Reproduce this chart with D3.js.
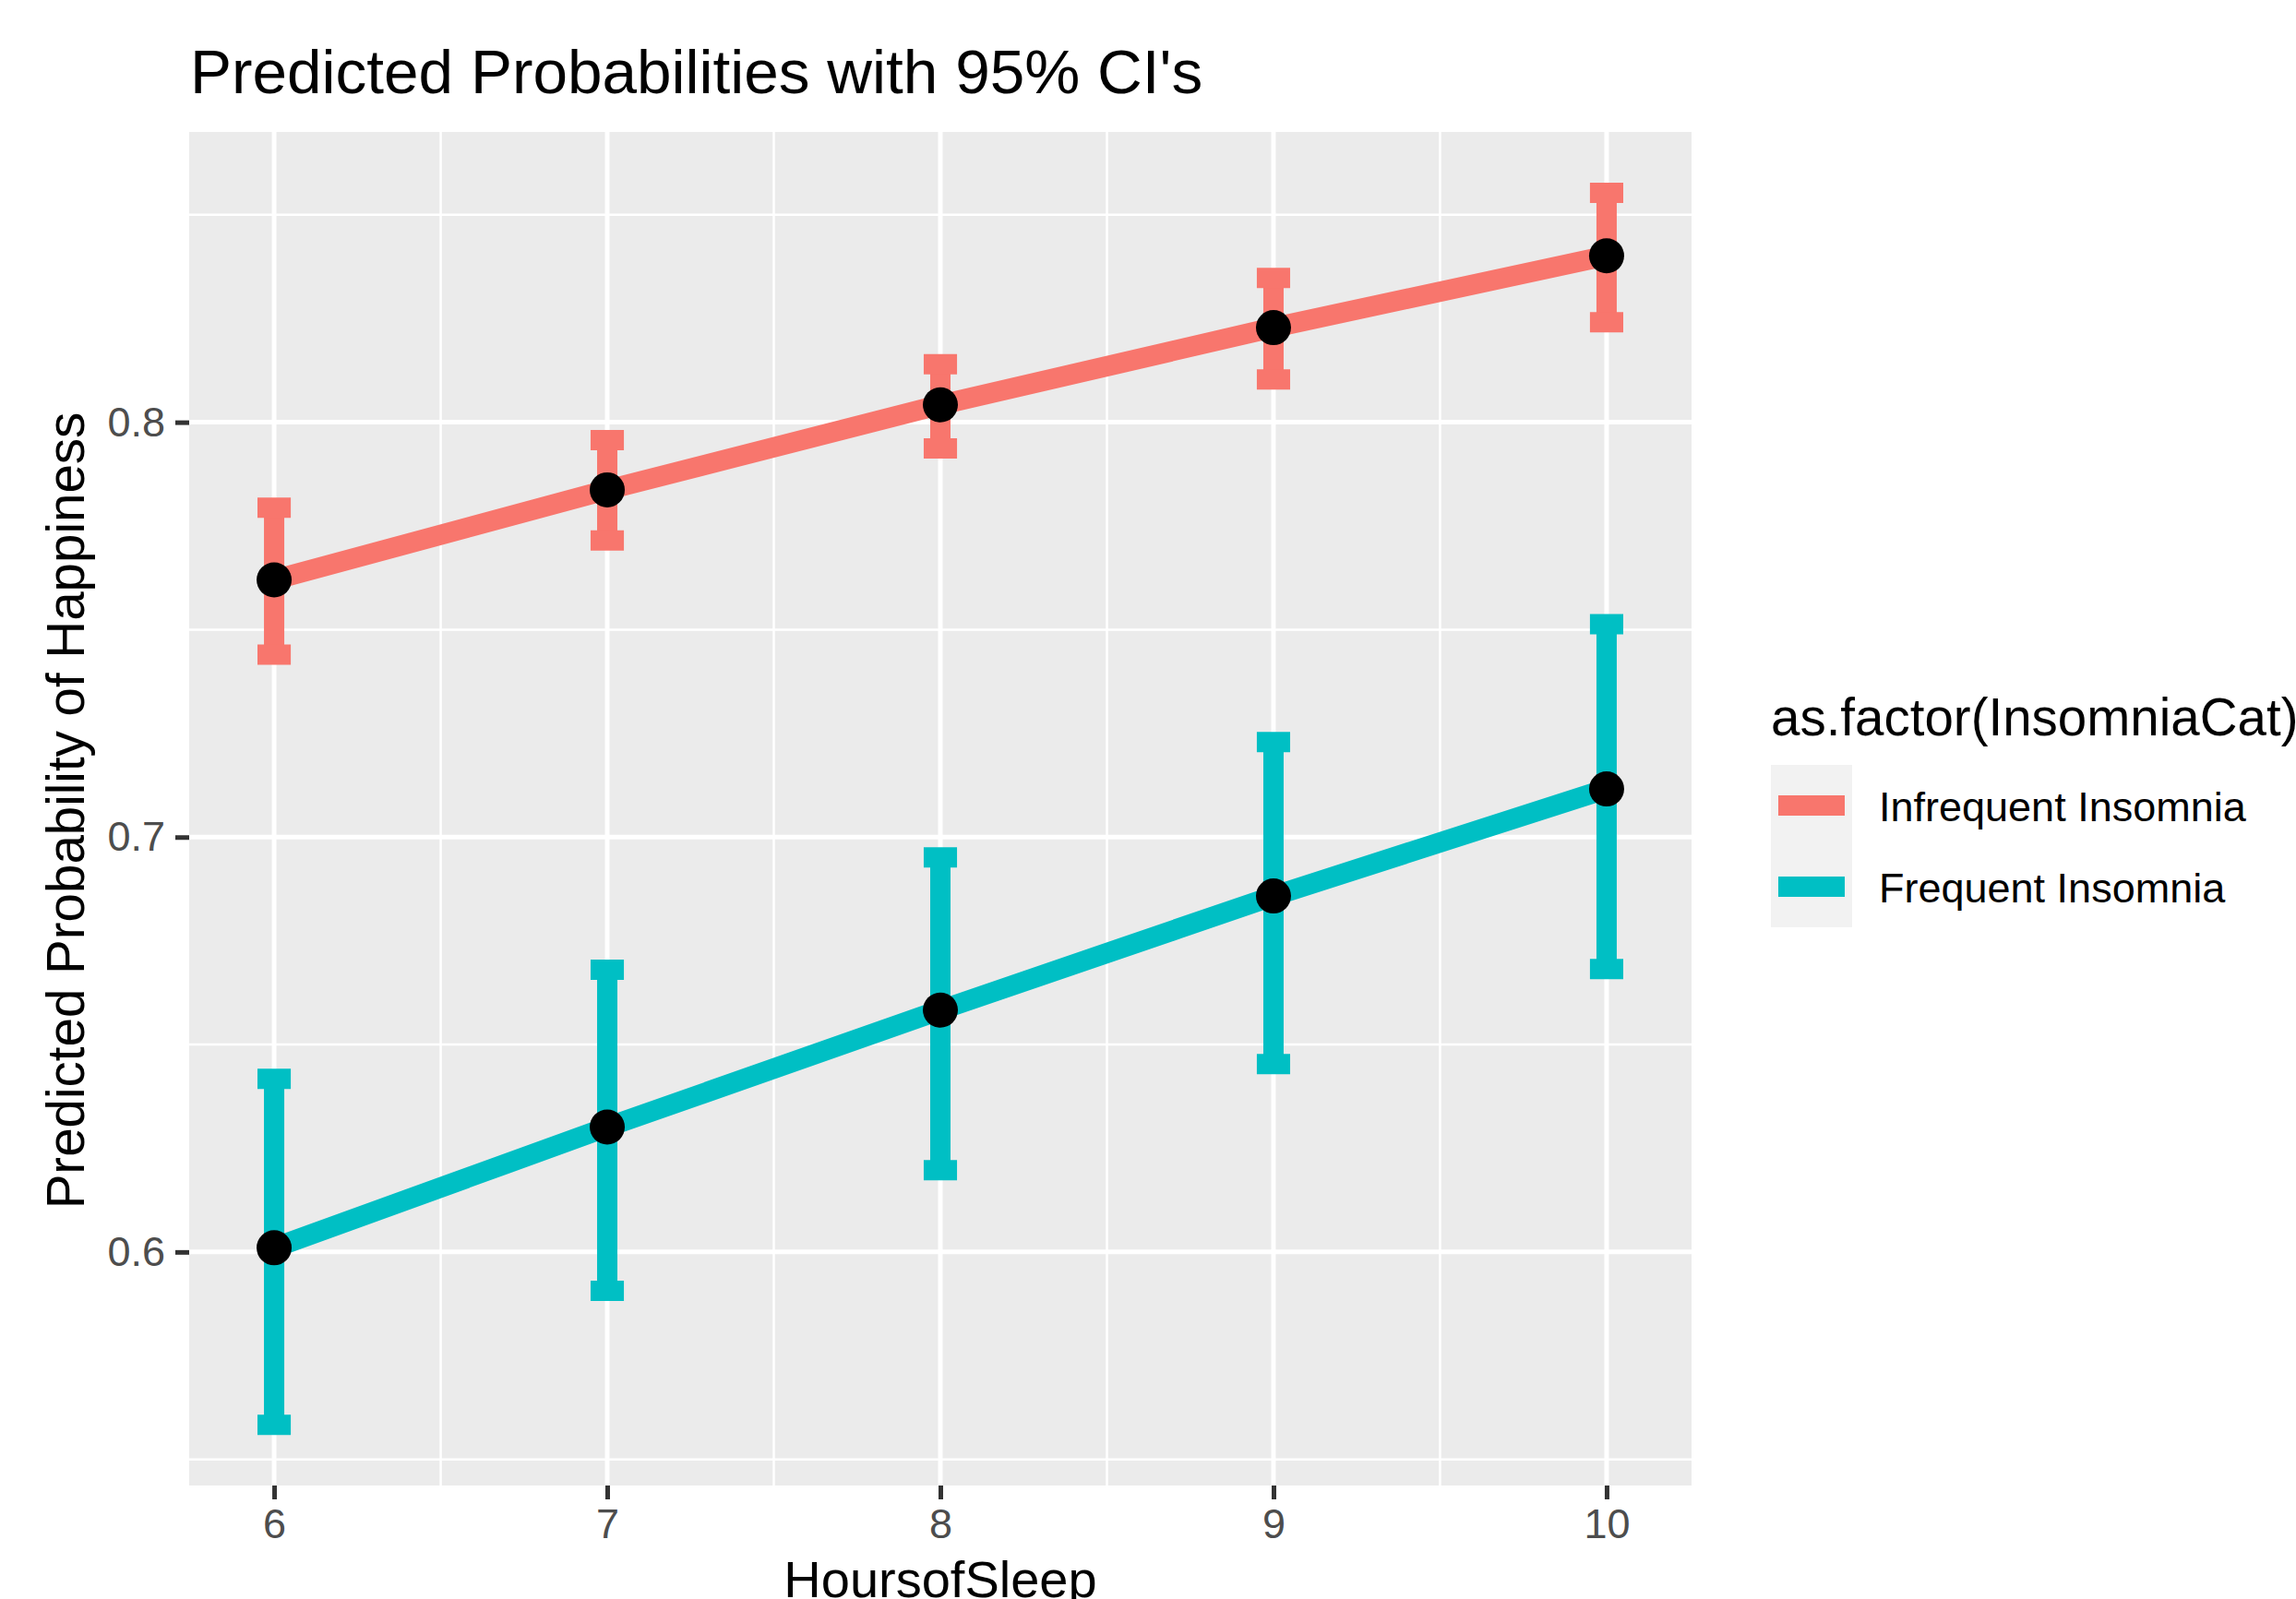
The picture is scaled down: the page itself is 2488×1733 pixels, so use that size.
<!DOCTYPE html>
<html>
<head>
<meta charset="utf-8">
<script src="https://cdn.jsdelivr.net/npm/d3@7"></script>
<style>
  body { margin: 0; background: #fff; }
  text { font-family: "Liberation Sans", Arial, Helvetica, sans-serif; }
  .axis path { display: none; }
  .axis line { stroke: #333333; stroke-width: 5px; }
  .axis text { fill: #4d4d4d; font-size: 45px; }
</style>
</head>
<body>
<div id="chart"></div>
<script>
// data
var hours = [6, 7, 8, 9, 10];
var infrequentFit   = [0.762, 0.7837, 0.8042, 0.8228, 0.8401];
var infrequentLower = [0.744, 0.7715, 0.7937, 0.8103, 0.8241];
var infrequentUpper = [0.7794, 0.7957, 0.814, 0.8348, 0.8553];
var frequentFit   = [0.601, 0.6301, 0.6583, 0.6858, 0.7116];
var frequentLower = [0.5583, 0.5906, 0.6197, 0.6453, 0.6682];
var frequentUpper = [0.6417, 0.668, 0.6951, 0.7229, 0.7513];
var seriesNames = ["Infrequent Insomnia", "Frequent Insomnia"];
var seriesColors = ["#F8766D", "#00BFC4"];
var yTicks = [0.6, 0.7, 0.8];
var yMinor = [0.55, 0.65, 0.75, 0.85];
var xMinor = [6.5, 7.5, 8.5, 9.5];

var margin = {top: 143, right: 655, bottom: 123, left: 205},
    width = 2488 - margin.left - margin.right,
    height = 1733 - margin.top - margin.bottom;

var root = d3.select("#chart").append("svg")
    .attr("width", 2488)
    .attr("height", 1733);

var svg = root.append("g")
    .attr("transform", "translate(" + margin.left + "," + margin.top + ")");

var x = d3.scaleLinear().domain([5.745, 10.255]).range([0, width]);
var y = d3.scaleLinear().domain([0.5437, 0.86997]).range([height, 0]);

var series = seriesNames.map(function(name, i) {
  var fit = i == 0 ? infrequentFit : frequentFit,
      lo = i == 0 ? infrequentLower : frequentLower,
      hi = i == 0 ? infrequentUpper : frequentUpper;
  return {
    name: name,
    color: seriesColors[i],
    values: hours.map(function(h, j) { return {x: h, fit: fit[j], lo: lo[j], hi: hi[j]}; })
  };
});

// panel + grid
svg.append("rect")
    .attr("width", width)
    .attr("height", height)
    .attr("fill", "#ebebeb");

svg.selectAll(".yminor").data(yMinor).enter().append("line")
    .attr("x1", 0).attr("x2", width)
    .attr("y1", function(d) { return y(d); }).attr("y2", function(d) { return y(d); })
    .attr("stroke", "#fff").attr("stroke-width", 2.5);
svg.selectAll(".xminor").data(xMinor).enter().append("line")
    .attr("y1", 0).attr("y2", height)
    .attr("x1", function(d) { return x(d); }).attr("x2", function(d) { return x(d); })
    .attr("stroke", "#fff").attr("stroke-width", 2.5);
svg.selectAll(".ymajor").data(yTicks).enter().append("line")
    .attr("x1", 0).attr("x2", width)
    .attr("y1", function(d) { return y(d); }).attr("y2", function(d) { return y(d); })
    .attr("stroke", "#fff").attr("stroke-width", 5);
svg.selectAll(".xmajor").data(hours).enter().append("line")
    .attr("y1", 0).attr("y2", height)
    .attr("x1", function(d) { return x(d); }).attr("x2", function(d) { return x(d); })
    .attr("stroke", "#fff").attr("stroke-width", 5);

// axes
var xAxis = d3.axisBottom(x).tickValues(hours).tickSize(15).tickPadding(10).tickFormat(d3.format("d"));
var yAxis = d3.axisLeft(y).tickValues(yTicks).tickSize(15).tickPadding(11).tickFormat(d3.format(".1f"));

svg.append("g")
    .attr("class", "x axis")
    .attr("transform", "translate(0," + height + ")")
    .call(xAxis);

svg.append("g")
    .attr("class", "y axis")
    .call(yAxis);

// lines
var line = d3.line()
    .x(function(d) { return x(d.x); })
    .y(function(d) { return y(d.fit); });

svg.selectAll(".series-line")
    .data(series)
    .enter().append("path")
    .attr("class", "series-line")
    .attr("d", function(s) { return line(s.values); })
    .attr("fill", "none")
    .attr("stroke", function(s) { return s.color; })
    .attr("stroke-width", 22);

// error bars
var capHalf = 0.05;
series.forEach(function(s) {
  var g = svg.append("g").attr("stroke", s.color).attr("stroke-width", 22).attr("stroke-linecap", "butt");
  g.selectAll(".stem").data(s.values).enter().append("line")
      .attr("x1", function(d) { return x(d.x); }).attr("x2", function(d) { return x(d.x); })
      .attr("y1", function(d) { return y(d.lo); }).attr("y2", function(d) { return y(d.hi); });
  ["lo", "hi"].forEach(function(k) {
    g.selectAll(".cap-" + k).data(s.values).enter().append("line")
        .attr("x1", function(d) { return x(d.x - capHalf); })
        .attr("x2", function(d) { return x(d.x + capHalf); })
        .attr("y1", function(d) { return y(d[k]); })
        .attr("y2", function(d) { return y(d[k]); });
  });
});

// points
series.forEach(function(s) {
  svg.selectAll(null).data(s.values).enter().append("circle")
      .attr("cx", function(d) { return x(d.x); })
      .attr("cy", function(d) { return y(d.fit); })
      .attr("r", 19)
      .attr("fill", "#000");
});

// titles
root.append("text")
    .attr("x", 206).attr("y", 101)
    .style("font-size", "67.5px")
    .text("Predicted Probabilities with 95% CI's");

root.append("text")
    .attr("x", margin.left + width / 2).attr("y", 1731)
    .attr("text-anchor", "middle")
    .style("font-size", "56px")
    .text("HoursofSleep");

root.append("text")
    .attr("transform", "translate(91," + (margin.top + height / 2 + 2) + ") rotate(-90)")
    .attr("text-anchor", "middle")
    .style("font-size", "56.5px")
    .text("Predicted Probability of Happiness");

// legend
var legend = root.append("g").attr("transform", "translate(1919,0)");

legend.append("text")
    .attr("x", 0).attr("y", 797)
    .style("font-size", "56.5px")
    .text("as.factor(InsomniaCat)");

legend.append("rect")
    .attr("x", 0).attr("y", 829)
    .attr("width", 88).attr("height", 176)
    .attr("fill", "#f2f2f2");

var keyY = [873, 961];
series.forEach(function(s, i) {
  legend.append("line")
      .attr("x1", 8).attr("x2", 80)
      .attr("y1", keyY[i]).attr("y2", keyY[i])
      .attr("stroke", s.color).attr("stroke-width", 22);
  legend.append("text")
      .attr("x", 117).attr("y", keyY[i] + 17)
      .style("font-size", "45px")
      .text(s.name);
});
</script>
</body>
</html>
